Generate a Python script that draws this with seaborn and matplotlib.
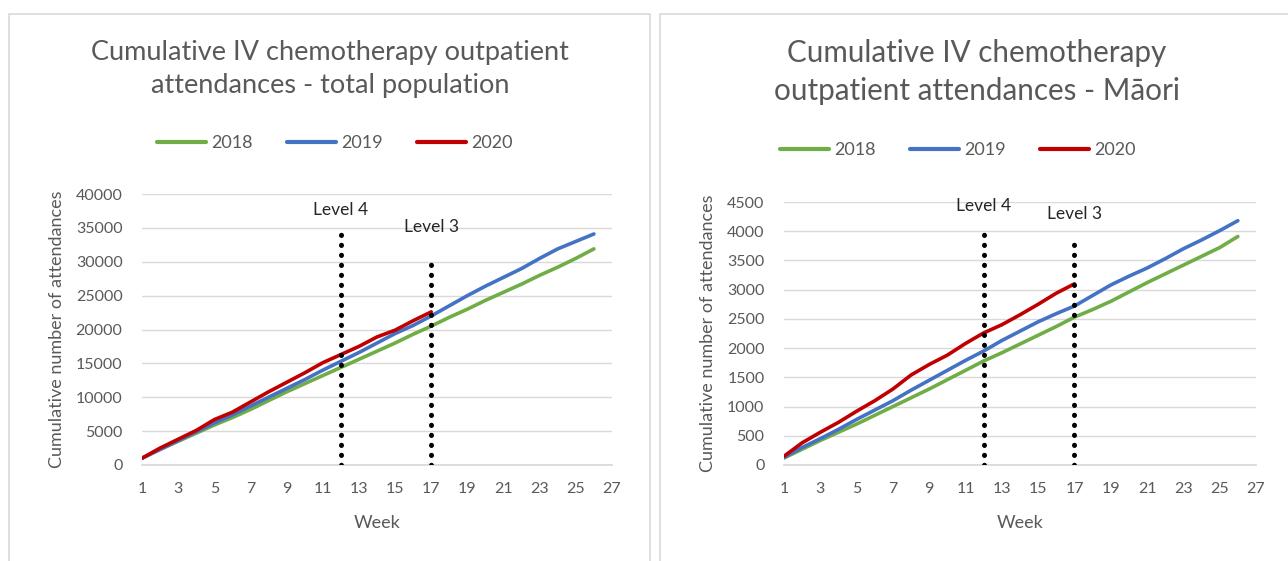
import matplotlib

matplotlib.use("Agg")
import matplotlib.pyplot as plt
import pandas as pd
import seaborn as sns
from matplotlib.patches import Rectangle

# ---- data ----
weeks = list(range(1, 27))
weeks_2020 = list(range(1, 18))
years = ["2018", "2019", "2020"]
year_colors = ["#70AD47", "#4472C4", "#C00000"]

total_2018 = [1000, 2300, 3500, 4700, 5900, 7000, 8200, 9500, 10800, 12000, 13200, 14400, 15600,
              16800, 18000, 19300, 20500, 21800, 23000, 24300, 25500, 26700, 28000, 29200, 30500, 31900]
total_2019 = [1000, 2300, 3600, 4900, 6200, 7400, 8700, 10000, 11300, 12600, 14000, 15300, 16600,
              18000, 19400, 20600, 22000, 23500, 25000, 26400, 27700, 29000, 30500, 31900, 33000, 34100]
total_2020 = [1000, 2500, 3800, 5100, 6700, 7800, 9300, 10800, 12200, 13600, 15100, 16300, 17500,
              18900, 19900, 21300, 22600]

maori_2018 = [120, 270, 420, 560, 700, 850, 1000, 1150, 1300, 1460, 1620, 1780, 1920,
              2070, 2220, 2370, 2530, 2660, 2800, 2960, 3120, 3270, 3420, 3570, 3720, 3910]
maori_2019 = [130, 300, 450, 610, 780, 940, 1100, 1280, 1450, 1620, 1790, 1950, 2130,
              2290, 2450, 2590, 2720, 2900, 3080, 3230, 3370, 3530, 3700, 3850, 4010, 4180]
maori_2020 = [150, 380, 560, 730, 920, 1100, 1300, 1540, 1720, 1880, 2080, 2260, 2400,
              2570, 2750, 2940, 3100]

level_weeks = [12, 17]
level_names = ["Level 4", "Level 3"]
total_level_tops = [34500, 30000]
total_label_y = [37600, 35100]
maori_level_tops = [4100, 3800]
maori_label_y = [4430, 4300]

x_ticks = list(range(1, 28, 2))
total_y_ticks = list(range(0, 40001, 5000))
maori_y_ticks = list(range(0, 4501, 500))

total_title = "Cumulative IV chemotherapy outpatient\nattendances - total population"
maori_title = "Cumulative IV chemotherapy\noutpatient attendances - M\u0101ori"


def long_frame(s2018, s2019, s2020):
    parts = []
    for year, wk, vals in zip(years, [weeks, weeks, weeks_2020], [s2018, s2019, s2020]):
        parts.append(pd.DataFrame({"week": wk, "cases": vals, "year": year}))
    return pd.concat(parts, ignore_index=True)


def draw_panel(fig, rect, frame, title, title_size, title_y, title_x, y_ticks, tops, label_y,
               legend_xy):
    ax = fig.add_axes(rect)
    sns.lineplot(
        data=frame, x="week", y="cases", hue="year", hue_order=years,
        palette=year_colors, linewidth=2.6, ax=ax, legend=True,
    )
    # lockdown level markers
    for wk, top, name, ly in zip(level_weeks, tops, level_names, label_y):
        ax.plot([wk, wk], [0, top], color="black", linestyle=(0, (0.05, 1.95)),
                linewidth=3.6, dash_capstyle="round", zorder=5)
        ax.text(wk, ly, name, ha="center", va="center", fontsize=12.5, color="#262626")

    ax.set_xlim(1, 27)
    ax.set_ylim(0, y_ticks[-1])
    ax.set_xticks(x_ticks)
    ax.set_yticks(y_ticks)
    ax.tick_params(axis="y", length=0, labelsize=11.5, colors="#595959", pad=14)
    ax.tick_params(axis="x", length=0, labelsize=11.5, colors="#595959", pad=12)
    ax.yaxis.grid(True, color="#d9d9d9", linewidth=1)
    ax.xaxis.grid(False)
    for side in ["top", "right", "left"]:
        ax.spines[side].set_visible(False)
    ax.spines["bottom"].set_color("#d9d9d9")
    ax.set_xlabel("Week", fontsize=13, color="#595959", labelpad=14)
    ax.set_ylabel("Cumulative number of attendances", fontsize=13, color="#595959", labelpad=8)

    fig.text(title_x, title_y, title, ha="center", va="center",
             fontsize=title_size, color="#595959", linespacing=1.4)

    handles, labels = ax.get_legend_handles_labels()
    ax.legend(handles, labels, loc="center", bbox_to_anchor=legend_xy, ncol=3,
              frameon=False, fontsize=13, labelcolor="#595959", handlelength=2.7,
              handletextpad=0.3, columnspacing=1.9, bbox_transform=fig.transFigure)
    for line in ax.get_legend().get_lines():
        line.set_linewidth(3)
    return ax


sns.set_theme(style="white")
plt.rcParams["font.family"] = ["Lato", "DejaVu Sans"]

fig = plt.figure(figsize=(12.88, 5.61), dpi=100)
fig.patch.set_facecolor("white")

# chart frames
fig.patches.append(Rectangle((9 / 1288, -0.01), 641 / 1288, 1 - 14 / 561 + 0.01,
                             transform=fig.transFigure, fill=False, edgecolor="#d9d9d9", linewidth=1.2))
fig.patches.append(Rectangle((660 / 1288, -0.01), 640 / 1288, 1 - 14 / 561 + 0.01,
                             transform=fig.transFigure, fill=False, edgecolor="#d9d9d9", linewidth=1.2))

total_df = long_frame(total_2018, total_2019, total_2020)
maori_df = long_frame(maori_2018, maori_2019, maori_2020)

draw_panel(fig, [142 / 1288, 96 / 561, 470 / 1288, 271 / 561], total_df, total_title,
           19.5, 1 - 69 / 561, 330 / 1288, total_y_ticks, total_level_tops, total_label_y,
           (335 / 1288, 1 - 143 / 561))

draw_panel(fig, [784 / 1288, 96 / 561, 472 / 1288, 263 / 561], maori_df, maori_title,
           21.3, 1 - 72 / 561, 977 / 1288, maori_y_ticks, maori_level_tops, maori_label_y,
           (958 / 1288, 1 - 150 / 561))

fig.savefig("out.png", dpi=100)
